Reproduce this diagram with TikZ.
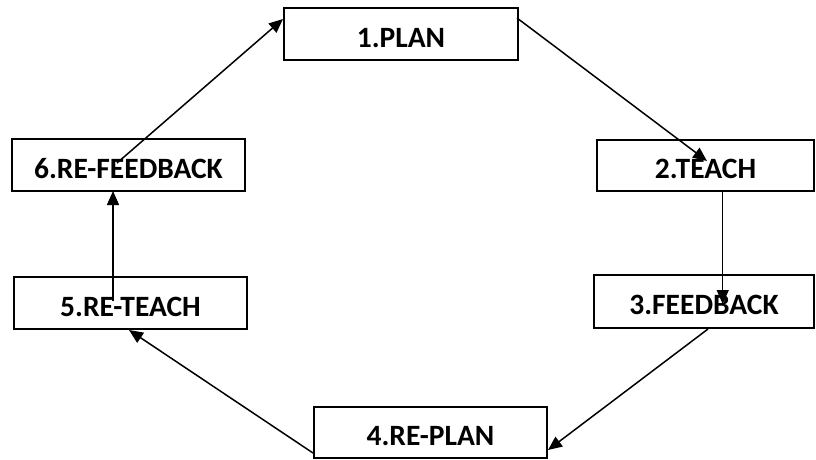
\documentclass[tikz,border=0pt]{standalone}
\usepackage{fontspec}
\setmainfont{Carlito}
\usetikzlibrary{arrows.meta}
\tikzset{
  stagebox/.style={draw=black, line width=1.8pt, rectangle, inner sep=0pt,
    font=\bfseries\fontsize{29.5}{32}\selectfont, text height=26pt, text depth=0pt},
  flow/.style={draw=black, line width=1.5pt, -{Triangle[length=14pt,width=12pt]}}
}
\begin{document}
\begin{tikzpicture}[x=1pt,y=-1pt]
\useasboundingbox (0,0) rectangle (816,459);
\node[stagebox, minimum width=234pt, minimum height=52pt] (n1) at (401,34) {1.PLAN};
\node[stagebox, minimum width=217pt, minimum height=51pt] (n2) at (705.5,165.5) {2.TEACH};
\node[stagebox, minimum width=220pt, minimum height=53pt] (n3) at (704,301.5) {3.FEEDBACK};
\node[stagebox, minimum width=233pt, minimum height=51pt] (n4) at (430.5,432.5) {4.RE-PLAN};
\node[stagebox, minimum width=233pt, minimum height=52pt] (n5) at (130.5,303) {5.RE-TEACH};
\node[stagebox, minimum width=233pt, minimum height=52pt] (n6) at (128.5,165) {6.RE-FEEDBACK};
% connector endpoints
\coordinate (s61) at (117,163);
\coordinate (e61) at (283,19);
\coordinate (s12) at (517,18);
\coordinate (e12) at (707,161);
\coordinate (s23) at (722.7,191);
\coordinate (e23) at (722.7,304);
\coordinate (s34) at (708,329);
\coordinate (e34) at (548,450);
\coordinate (s45) at (313,453);
\coordinate (e45) at (129,330);
\coordinate (s56) at (113,301);
\coordinate (e56) at (113,191);
\draw[flow] (s61) -- (e61);
\draw[flow] (s12) -- (e12);
\draw[flow] (s23) -- (e23);
\draw[flow] (s34) -- (e34);
\draw[flow] (s45) -- (e45);
\draw[flow] (s56) -- (e56);
\end{tikzpicture}
\end{document}
